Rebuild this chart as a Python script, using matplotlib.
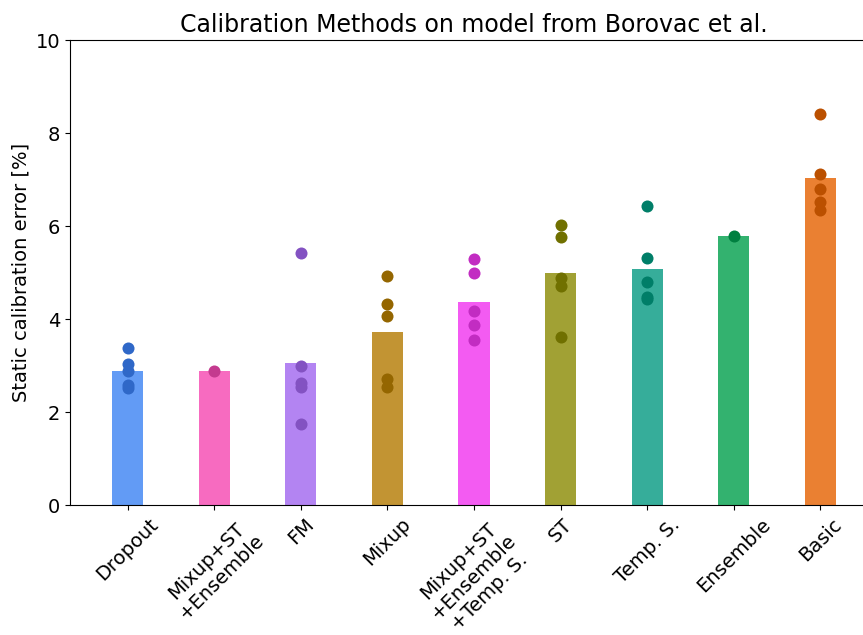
import numpy as np
import matplotlib
matplotlib.use("Agg")
import matplotlib.pyplot as plt

# methods sorted by mean static calibration error
methods = ["Dropout", "Mixup+ST\n+Ensemble", "FM", "Mixup",
           "Mixup+ST\n+Ensemble\n+Temp. S.", "ST", "Temp. S.", "Ensemble", "Basic"]

# per-run errors [%]
runs = [
    [3.38, 3.03, 2.89, 2.58, 2.52],
    [2.88],
    [5.42, 3.00, 2.62, 2.53, 1.74],
    [4.92, 4.32, 4.06, 2.72, 2.54],
    [5.29, 5.00, 4.17, 3.88, 3.54],
    [6.02, 5.77, 4.89, 4.70, 3.62],
    [6.42, 5.31, 4.79, 4.48, 4.43],
    [5.78],
    [8.41, 7.11, 6.80, 6.52, 6.34],
]

bar_colors = ["#629bf5", "#f76bc0", "#b384f2", "#c29433", "#f35bf2",
              "#a1a134", "#36ad9a", "#33b26f", "#ea8032"]
dot_colors = ["#2f68c8", "#c43a8f", "#8352c2", "#946600", "#c22cc2",
              "#707000", "#007e68", "#008040", "#bb5000"]

means = [np.mean(r) for r in runs]

fig = plt.figure(figsize=(8.63, 6.35), dpi=100)
# axes runs a bit past the right edge, like the cropped original
ax = fig.add_axes([0.0811, 0.2047, 0.9363, 0.7323])

x = np.arange(len(methods))
ax.bar(x, means, width=0.36, color=bar_colors, zorder=1)
for i, r in enumerate(runs):
    ax.scatter([i] * len(r), r, s=75, color=dot_colors[i], zorder=2, linewidths=0)

ax.set_xlim(-0.664, 8.664)
ax.set_ylim(0, 10)
ax.set_xticks(x)
ax.set_xticklabels(methods, rotation=45, fontsize=14)
ax.tick_params(axis="y", labelsize=14)
ax.set_ylabel("Static calibration error [%]", fontsize=14)
ax.set_title("Calibration Methods on model from Borovac et al.", fontsize=17)
ax.spines["right"].set_visible(False)

fig.savefig("out.png", dpi=100)
